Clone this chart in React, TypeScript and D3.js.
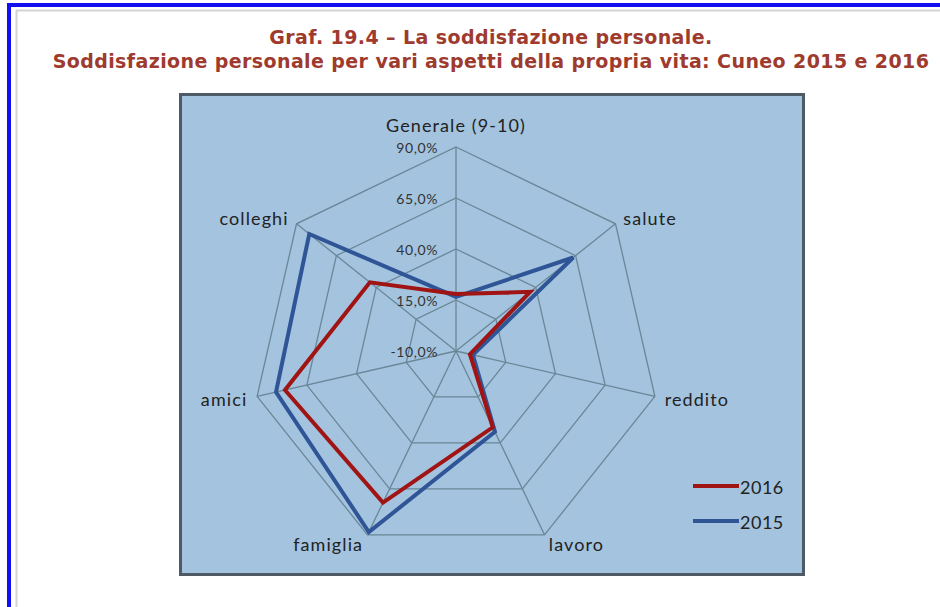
import React from "react";
import * as d3 from "d3";

const categories = ["Generale (9-10)", "salute", "reddito", "lavoro", "famiglia", "amici", "colleghi"];
const values2016 = [18, 36.5, -3, 31.5, 72.5, 76, 44];
const values2015 = [16.5, 63.5, -1.5, 34, 88.5, 80.5, 82];
const ticks = [-10, 15, 40, 65, 90];
const seriesNames = ["2016", "2015"];

const W = 940, H = 607;
const cx = 456, cy = 351, R = 204;
const RED = "#a01414";
const BLUE = "#2f5596";
const GRID = "#6a8797";

export default function App() {
  const r = d3.scaleLinear().domain([-10, 90]).range([0, R]);
  const n = categories.length;
  const ang = (i: number) => (i * 2 * Math.PI) / n;
  const pt = (i: number, v: number): [number, number] => [
    cx + r(v) * Math.sin(ang(i)),
    cy - r(v) * Math.cos(ang(i)),
  ];
  const line = d3.line<[number, number]>().curve(d3.curveLinearClosed);
  const ringPath = (v: number) => line(categories.map((_, i) => pt(i, v))) as string;
  const seriesPath = (vals: number[]) => line(vals.map((v, i) => pt(i, v))) as string;
  const fmt = (v: number) => v.toFixed(1).replace(".", ",") + "%";
  const labelFont = "Lato, 'Open Sans', sans-serif";

  return (
    <svg width={W} height={H} style={{ position: "absolute", left: 0, top: 0, background: "#fff" }}>
      {/* page frame */}
      <line x1={7} y1={5} x2={W} y2={5} stroke="#1010f0" strokeWidth={4} />
      <line x1={9} y1={3} x2={9} y2={H} stroke="#1010f0" strokeWidth={4} />
      <line x1={16} y1={10.5} x2={W} y2={10.5} stroke="#d4d4d4" strokeWidth={2} />
      <line x1={16.5} y1={10} x2={16.5} y2={H} stroke="#d4d4d4" strokeWidth={2} />

      {/* titles */}
      <g fontFamily="'DejaVu Sans', Verdana, sans-serif" fontWeight="bold" fill="#9e3a2e" textAnchor="middle" fontSize={19} letterSpacing={0.4}>
        <text x={491} y={44}>Graf. 19.4 – La soddisfazione personale.</text>
        <text x={491} y={68}>Soddisfazione personale per vari aspetti della propria vita: Cuneo 2015 e 2016</text>
      </g>

      {/* chart box */}
      <rect x={180.5} y={94.5} width={623} height={480} fill="#a3c3df" stroke="#4e5a66" strokeWidth={3} />

      {/* grid rings */}
      {ticks.map((t) => (
        <path key={t} d={ringPath(t)} fill="none" stroke={GRID} strokeWidth={1.3} />
      ))}
      {/* spokes */}
      {categories.map((_, i) => {
        const [x, y] = pt(i, 90);
        return <line key={i} x1={cx} y1={cy} x2={x} y2={y} stroke={GRID} strokeWidth={1.3} />;
      })}

      {/* series */}
      <path d={seriesPath(values2015)} fill="none" stroke={BLUE} strokeWidth={4} strokeLinejoin="miter" />
      <path d={seriesPath(values2016)} fill="none" stroke={RED} strokeWidth={4} strokeLinejoin="miter" />

      {/* tick labels */}
      <g fontFamily={labelFont} fontSize={14} letterSpacing={0.6} fill="#333" textAnchor="end">
        {ticks.map((t) => (
          <text key={t} x={cx - 18} y={cy - r(t)} dominantBaseline="central">
            {fmt(t)}
          </text>
        ))}
      </g>

      {/* axis labels */}
      <g fontFamily={labelFont} fontSize={18} letterSpacing={1.1} fill="#222">
        {categories.map((c, i) => {
          const a = ang(i);
          const s = Math.sin(a);
          const off = i === 0 ? 22 : 10;
          const x = cx + (R + off) * s;
          const y = cy - (R + off) * Math.cos(a);
          const anchor = Math.abs(s) < 0.1 ? "middle" : s > 0 ? "start" : "end";
          return (
            <text key={c} x={x} y={y} textAnchor={anchor} dominantBaseline="central">
              {c}
            </text>
          );
        })}
      </g>

      {/* legend */}
      <g fontFamily={labelFont} fontSize={18} letterSpacing={0.5} fill="#222">
        {seriesNames.map((s, k) => {
          const y = 486 + k * 35;
          return (
            <g key={s}>
              <line x1={693} y1={y} x2={739} y2={y} stroke={k === 0 ? RED : BLUE} strokeWidth={4} />
              <text x={740} y={y + 1} dominantBaseline="central">{s}</text>
            </g>
          );
        })}
      </g>
    </svg>
  );
}
